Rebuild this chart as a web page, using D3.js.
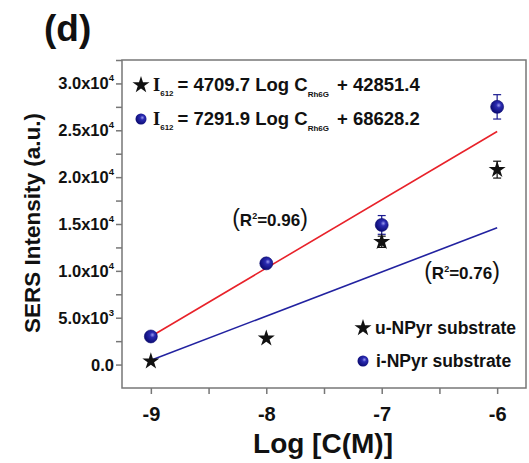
<!DOCTYPE html>
<html>
<head>
<meta charset="utf-8">
<script src="https://cdn.jsdelivr.net/npm/d3@7"></script>
<style>
  body { margin: 0; background: #fff; }
  text { font-family: Arial, "Liberation Sans", sans-serif; font-weight: bold; }
</style>
</head>
<body>
<div id="chart"></div>
<script>
// data
var logConc = [-9, -8, -7, -6];
var iNPyr = [3000, 10800, 14900, 27500];
var iNPyrErr = [0, 0, 1000, 1300];
var uNPyr = [350, 2800, 13100, 20800];
var uNPyrErr = [0, 0, 600, 900];
var fitI = { slope: 7291.9, icpt: 68628.2 };
var fitU = { slope: 4709.7, icpt: 42851.4 };
var xTicks = [-9, -8, -7, -6];
var yTicks = [0, 5000, 10000, 15000, 20000, 25000, 30000];

var svgWidth = 529;
var svgHeight = 463;
var margin = { top: 60, right: 3, bottom: 75, left: 122 };
var width = svgWidth - margin.left - margin.right;
var height = svgHeight - margin.top - margin.bottom;

var svg = d3.select("#chart").append("svg")
  .attr("width", svgWidth)
  .attr("height", svgHeight);

var defs = svg.append("defs");
var grad = defs.append("radialGradient")
  .attr("id", "ball")
  .attr("cx", "62%").attr("cy", "38%").attr("r", "65%");
grad.append("stop").attr("offset", "0%").attr("stop-color", "#9a9af0");
grad.append("stop").attr("offset", "30%").attr("stop-color", "#2a2ab0");
grad.append("stop").attr("offset", "100%").attr("stop-color", "#0a0a70");

var chartGroup = svg.append("g")
  .attr("transform", `translate(${margin.left}, ${margin.top})`);

var x = d3.scaleLinear().domain([-9.25, -5.75]).range([0, width]);
var y = d3.scaleLinear().domain([-2500, 32500]).range([height, 0]);

// frame
chartGroup.append("rect")
  .attr("width", width).attr("height", height)
  .attr("fill", "none").attr("stroke", "#777").attr("stroke-width", 1.5);

// axes
var bottomAxis = d3.axisBottom(x).tickValues(xTicks).tickSize(6).tickFormat(d => String(d));
var xMinor = d3.axisBottom(x).tickValues([-8.5, -7.5, -6.5]).tickSize(6).tickFormat("");
var leftAxis = d3.axisLeft(y).tickValues(yTicks).tickSize(6).tickFormat("");
var yMinor = d3.axisLeft(y).tickValues([2500, 7500, 12500, 17500, 22500, 27500, 32500]).tickSize(6).tickFormat("");

var xAxis = chartGroup.append("g").attr("transform", `translate(0, ${height})`).call(bottomAxis);
chartGroup.append("g").attr("transform", `translate(0, ${height})`).call(xMinor);
chartGroup.append("g").call(leftAxis);
chartGroup.append("g").call(yMinor);
chartGroup.selectAll(".domain").remove();
chartGroup.selectAll(".tick line").attr("stroke", "#777").attr("stroke-width", 1.5);

xAxis.selectAll("text")
  .attr("font-size", "20px").attr("fill", "#111").attr("dy", "1.2em")
  .style("font-weight", "bold");

// y tick labels with superscript powers
yTicks.forEach(function(v) {
  var t = chartGroup.append("text")
    .attr("x", -8).attr("y", y(v) + 6)
    .attr("text-anchor", "end")
    .attr("font-size", "16.5px").attr("fill", "#111");
  if (v === 0) {
    t.text("0.0");
  } else {
    var p = Math.floor(Math.log10(v));
    t.append("tspan").text((v / Math.pow(10, p)).toFixed(1) + "x10");
    t.append("tspan").attr("dy", -8).attr("font-size", "9.5px").text(p);
  }
});

// fit lines
var line = d3.line().x(d => x(d[0])).y(d => y(d[1]));
[[fitI, "#e8222a"], [fitU, "#2222a0"]].forEach(function(f) {
  var pts = [-9, -6].map(c => [c, f[0].slope * c + f[0].icpt]);
  chartGroup.append("path").datum(pts).attr("d", line)
    .attr("fill", "none").attr("stroke", f[1]).attr("stroke-width", 1.6);
});

// error bars
function errorBars(vals, errs, color) {
  logConc.forEach(function(c, i) {
    if (!errs[i]) return;
    var g = chartGroup.append("g").attr("stroke", color).attr("stroke-width", 1.2);
    g.append("line").attr("x1", x(c)).attr("x2", x(c)).attr("y1", y(vals[i] + errs[i])).attr("y2", y(vals[i] - errs[i]));
    [1, -1].forEach(function(s) {
      g.append("line").attr("x1", x(c) - 4).attr("x2", x(c) + 4)
        .attr("y1", y(vals[i] + s * errs[i])).attr("y2", y(vals[i] + s * errs[i]));
    });
  });
}
errorBars(iNPyr, iNPyrErr, "#1a1a90");
errorBars(uNPyr, uNPyrErr, "#111");

var star = d3.symbol().type(d3.symbolStar).size(90);

chartGroup.selectAll(".ustar").data(logConc).enter().append("path")
  .attr("transform", (d, i) => `translate(${x(d)}, ${y(uNPyr[i])})`)
  .attr("d", star).attr("fill", "#111");

chartGroup.selectAll(".iball").data(logConc).enter().append("circle")
  .attr("cx", d => x(d)).attr("cy", (d, i) => y(iNPyr[i]))
  .attr("r", 6.5).attr("fill", "url(#ball)").attr("stroke", "#0a0a70").attr("stroke-width", 0.6);

// equation legend
function equation(yy, slope, icpt, marker) {
  var gx = 141;
  if (marker === "star") {
    svg.append("path").attr("transform", `translate(${gx}, ${yy - 6})`).attr("d", star).attr("fill", "#111");
  } else {
    svg.append("circle").attr("cx", gx).attr("cy", yy - 6).attr("r", 5.5).attr("fill", "url(#ball)");
  }
  var t = svg.append("text").attr("x", 153).attr("y", yy).attr("font-size", "18.5px").attr("fill", "#111");
  t.append("tspan").style("font-family", "'Liberation Serif', 'Times New Roman', serif").text("I");
  t.append("tspan").attr("dy", 5).attr("font-size", "8px").text("612");
  t.append("tspan").attr("dy", -5).attr("dx", 4).text("= " + slope + " Log C");
  t.append("tspan").attr("dy", 6).attr("font-size", "8px").text("Rh6G");
  t.append("tspan").attr("dy", -6).attr("dx", 8).text("+ " + icpt);
}
equation(91, "4709.7", "42851.4", "star");
equation(125, "7291.9", "68628.2", "ball");

// R^2 labels
function rLabel(cx, cy, txt) {
  var t = svg.append("text").attr("x", cx).attr("y", cy + 6).attr("text-anchor", "middle")
    .attr("font-size", "17px").attr("fill", "#111");
  t.append("tspan").attr("font-size", "23px").attr("font-weight", "normal").text("(");
  t.append("tspan").text("R");
  t.append("tspan").attr("dy", -7).attr("font-size", "9px").text("2");
  t.append("tspan").attr("dy", 7).text("=" + txt);
  t.append("tspan").attr("font-size", "23px").attr("font-weight", "normal").text(")");
}
rLabel(270, 220, "0.96");
rLabel(462, 273, "0.76");

// substrate legend
svg.append("path").attr("transform", "translate(363, 328)").attr("d", star).attr("fill", "#111");
svg.append("text").attr("x", 375).attr("y", 334).attr("font-size", "17.5px").attr("fill", "#111").text("u-NPyr substrate");
svg.append("circle").attr("cx", 363).attr("cy", 361).attr("r", 5.5).attr("fill", "url(#ball)");
svg.append("text").attr("x", 376).attr("y", 367).attr("font-size", "17.5px").attr("fill", "#111").text("i-NPyr substrate");

// axis titles
svg.append("text").attr("x", 323).attr("y", 453)
  .attr("text-anchor", "middle").attr("font-size", "28px").attr("fill", "#111").text("Log [C(M)]");
svg.append("text").attr("transform", "translate(40, 223) rotate(-90)")
  .attr("text-anchor", "middle").attr("font-size", "22.5px").attr("fill", "#111").text("SERS Intensity (a.u.)");

// panel letter
svg.append("text").attr("x", 44).attr("y", 41).attr("font-size", "37px").attr("fill", "#111").text("(d)");
</script>
</body>
</html>
